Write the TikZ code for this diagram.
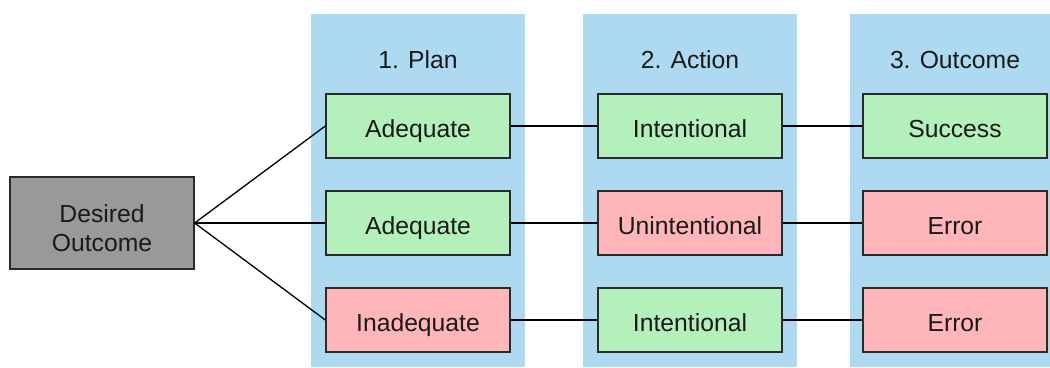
\documentclass[tikz,border=0pt]{standalone}
\usepackage{fontspec}
\setmainfont{Liberation Sans}
\definecolor{colbg}{HTML}{AEDAF1}
\definecolor{okfill}{HTML}{B4F0BB}
\definecolor{badfill}{HTML}{FFB6BA}
\definecolor{grayfill}{HTML}{999999}
\definecolor{edge}{HTML}{2A2A2A}
\definecolor{txt}{HTML}{1A1A1A}
\begin{document}
\begin{tikzpicture}[x=1bp,y=-1bp,
  box/.style={draw=edge,line width=1.3bp,minimum width=184bp,minimum height=64bp,inner sep=0pt,
    font=\fontsize{24.8}{29}\selectfont,text=txt,align=center,text height=23bp,text depth=0pt},
  ok/.style={box,fill=okfill},
  bad/.style={box,fill=badfill},
  head/.style={font=\fontsize{24.8}{29}\selectfont,text=txt,inner sep=0pt,anchor=base},
  link/.style={draw=black,line width=1.3bp}]
\useasboundingbox (0,0) rectangle (1050,367);
\fill[colbg] (311,14) rectangle (525,367);
\fill[colbg] (583,14) rectangle (797,367);
\fill[colbg] (850,14) rectangle (1050,367);
\node[head] (h1) at (418,68) {1. Plan};
\node[head] (h2) at (690,68) {2. Action};
\node[head] (h3) at (955,68) {3. Outcome};
\node[box,fill=grayfill,minimum width=184bp,minimum height=92bp,text height=57.4bp] (d) at (102,223) {Desired\\Outcome};
\node[ok] (p1) at (418,126) {Adequate};
\node[ok] (p2) at (418,223) {Adequate};
\node[bad] (p3) at (418,320) {Inadequate};
\node[ok] (a1) at (690,126) {Intentional};
\node[bad] (a2) at (690,223) {Unintentional};
\node[ok] (a3) at (690,320) {Intentional};
\node[ok] (o1) at (955,126) {Success};
\node[bad] (o2) at (955,223) {Error};
\node[bad] (o3) at (955,320) {Error};
\draw[link] (d.east) -- (p1.west);
\draw[link] (d.east) -- (p2.west);
\draw[link] (d.east) -- (p3.west);
\draw[link] (p1) -- (a1);
\draw[link] (p2) -- (a2);
\draw[link] (p3) -- (a3);
\draw[link] (a1) -- (o1);
\draw[link] (a2) -- (o2);
\draw[link] (a3) -- (o3);
\end{tikzpicture}
\end{document}
